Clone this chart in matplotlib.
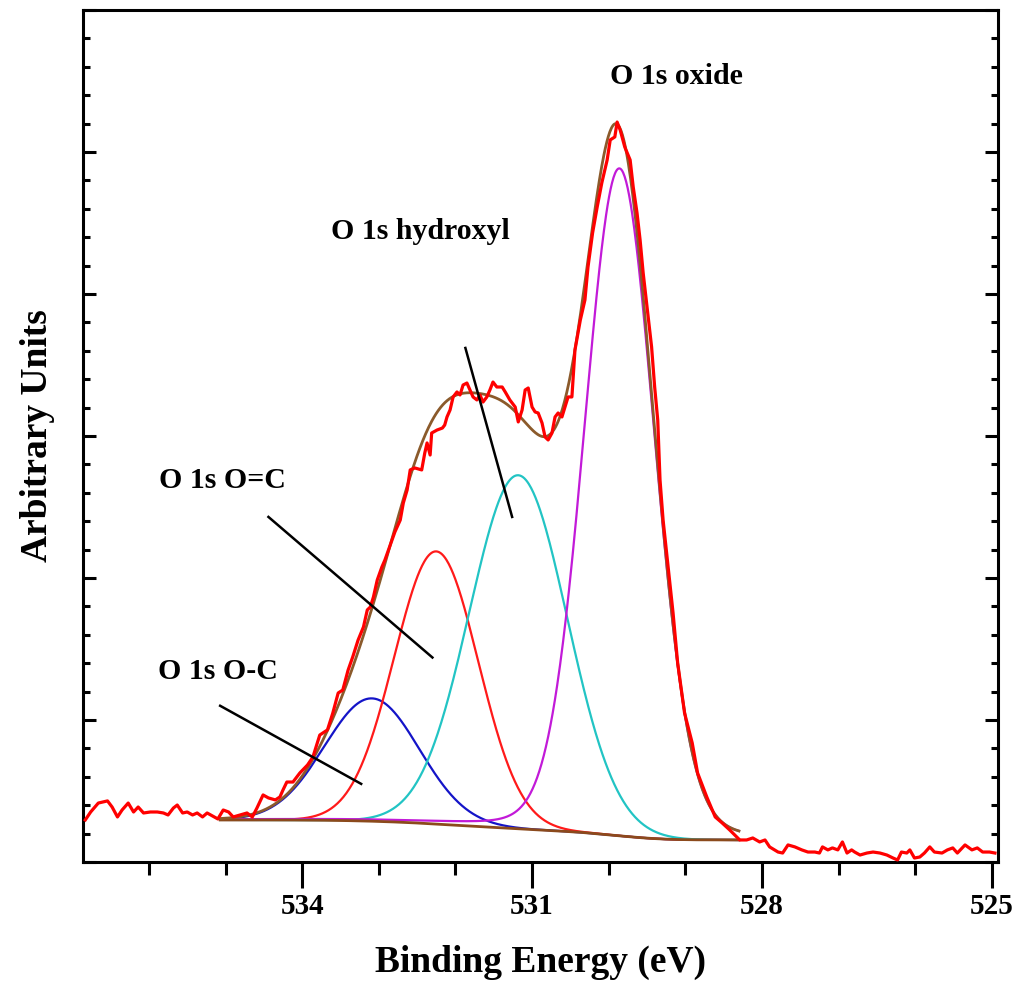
import numpy as np
import matplotlib
matplotlib.use("Agg")
import matplotlib.pyplot as plt
from matplotlib.ticker import MultipleLocator

# ---- measured O 1s spectrum (binding energy in eV, intensity in arb. units) ----
energy = [
    536.83, 536.76, 536.66, 536.54, 536.48, 536.41, 536.35, 536.27, 536.20, 536.14,
    536.07, 535.98, 535.89, 535.81, 535.75, 535.68, 535.63, 535.56, 535.50, 535.43,
    535.37, 535.30, 535.24, 535.17, 535.10, 535.03, 534.96, 534.90, 534.81, 534.72,
    534.65, 534.59, 534.51, 534.44, 534.35, 534.29,
    534.25, 534.20, 534.12, 534.03, 533.93, 533.86, 533.77, 533.67, 533.60, 533.53,
    533.47, 533.40, 533.34, 533.27, 533.20, 533.15, 533.11, 533.07, 533.02, 532.96,
    532.92, 532.85, 532.79,
    532.72, 532.68, 532.63, 532.59, 532.53, 532.44, 532.40, 532.37, 532.33, 532.31,
    532.24, 532.17, 532.14, 532.11, 532.07, 532.03, 531.98, 531.94, 531.90, 531.85,
    531.81, 531.77, 531.72, 531.68, 531.64, 531.59, 531.55, 531.51, 531.46, 531.39,
    531.35, 531.29, 531.22, 531.18, 531.13, 531.09, 531.05, 531.00, 530.96, 530.92,
    530.87, 530.83, 530.79, 530.74, 530.70, 530.66, 530.61, 530.57, 530.53,
    530.48, 530.44, 530.37, 530.31, 530.27, 530.21, 530.15, 530.09, 530.02, 529.98,
    529.92, 529.89, 529.85, 529.79, 529.72, 529.68, 529.63, 529.59, 529.55, 529.49,
    529.44, 529.40, 529.36,
    529.33, 529.29, 529.23, 529.16, 529.10, 529.01, 528.91, 528.84, 528.72, 528.61,
    528.52, 528.42, 528.29, 528.20, 528.12, 528.03,
    527.96, 527.90, 527.79, 527.73, 527.66, 527.57, 527.48, 527.40, 527.31, 527.25,
    527.21, 527.14, 527.08, 527.01, 526.95, 526.89, 526.83, 526.79, 526.72, 526.63,
    526.55, 526.46, 526.37, 526.29, 526.23, 526.18, 526.11, 526.07, 526.01, 525.94,
    525.88, 525.81, 525.75, 525.65, 525.58, 525.51, 525.45, 525.35, 525.26, 525.19,
    525.12, 525.03, 524.96,
]
intensity = [
    0.296, 0.352, 0.415, 0.430, 0.387, 0.317, 0.366, 0.415, 0.352, 0.387,
    0.345, 0.352, 0.352, 0.345, 0.331, 0.380, 0.401, 0.345, 0.352, 0.331,
    0.345, 0.317, 0.345, 0.324, 0.303, 0.366, 0.352, 0.317, 0.331, 0.345,
    0.317, 0.380, 0.472, 0.451, 0.437, 0.458,
    0.507, 0.563, 0.563, 0.627, 0.683, 0.739, 0.894, 0.930, 1.049, 1.190,
    1.211, 1.352, 1.444, 1.563, 1.655, 1.775, 1.796, 1.866, 1.986, 2.077,
    2.127, 2.232, 2.324,
    2.408, 2.528, 2.620, 2.761, 2.775, 2.761, 2.880, 2.951, 2.866, 3.021,
    3.042, 3.056, 3.077, 3.134, 3.183, 3.275, 3.310, 3.289, 3.359, 3.373,
    3.324, 3.275, 3.254, 3.289, 3.239, 3.275, 3.324, 3.380, 3.345, 3.345,
    3.310, 3.254, 3.204, 3.099, 3.183, 3.324, 3.338, 3.204, 3.169, 3.162,
    3.092, 2.993, 2.972, 3.021, 3.134, 3.162, 3.134, 3.204, 3.275,
    3.275, 3.606, 3.817, 3.958, 4.190, 4.430, 4.613, 4.782, 4.944, 5.085,
    5.106, 5.211, 5.155, 5.035, 4.944, 4.754, 4.570, 4.380, 4.148, 3.866,
    3.627, 3.345, 3.113,
    2.690, 2.408, 2.106, 1.754, 1.401, 1.049, 0.838, 0.627, 0.458, 0.317,
    0.275, 0.225, 0.155, 0.155, 0.169, 0.141,
    0.155, 0.106, 0.070, 0.063, 0.120, 0.106, 0.085, 0.070, 0.070, 0.063,
    0.106, 0.085, 0.099, 0.085, 0.141, 0.063, 0.085, 0.070, 0.049, 0.063,
    0.070, 0.063, 0.049, 0.028, 0.014, 0.070, 0.063, 0.085, 0.028, 0.035,
    0.063, 0.106, 0.070, 0.063, 0.085, 0.099, 0.063, 0.120, 0.085, 0.099,
    0.070, 0.070, 0.063,
]

# ---- fitted components: centre (eV), height, FWHM (eV), Lorentzian fraction ----
peak_names = ["O 1s O-C", "O 1s O=C", "O 1s hydroxyl", "O 1s oxide"]
peak_centers = [533.09, 532.25, 531.18, 529.86]
peak_heights = [0.865, 1.92, 2.49, 4.70]
peak_fwhm = [1.45, 1.29, 1.50, 1.08]
peak_eta = [0.0, 0.0, 0.0, 0.10]
peak_colors = ["#1414c8", "#ff1a1a", "#22c4c4", "#c21ad8"]

# fit window and Shirley background end levels
fit_low, fit_high = 528.30, 535.07
bg_low, bg_high = 0.155, 0.296

# annotation labels: text position and pointer line (energy, intensity)
label_texts = ["O 1s oxide", "O 1s hydroxyl", "O 1s O=C", "O 1s O-C"]
label_pos = [(529.11, 5.53), (532.46, 4.44), (535.04, 2.69), (535.10, 1.34)]
pointer_lines = [
    ((531.87, 3.62), (531.26, 2.43)),
    ((534.44, 2.43), (532.30, 1.44)),
    ((535.07, 1.10), (533.23, 0.55)),
]

x_major = [534, 531, 528, 525]


def pseudo_voigt(e, c, h, w, eta):
    x = (e - c) / w
    return h * ((1 - eta) * np.exp(-4 * np.log(2) * x ** 2) + eta / (1 + 4 * x ** 2))


e_fit = np.linspace(fit_low, fit_high, 700)
components = [pseudo_voigt(e_fit, c, h, w, n)
              for c, h, w, n in zip(peak_centers, peak_heights, peak_fwhm, peak_eta)]
peak_sum = np.sum(components, axis=0)

# Shirley-type background: step proportional to the integrated peak area
cum = np.concatenate([[0.0], np.cumsum(0.5 * (peak_sum[1:] + peak_sum[:-1]) * np.diff(e_fit))])
background = bg_low + (bg_high - bg_low) * cum / cum[-1]
envelope = background + peak_sum

serif = "Liberation Serif"
fig = plt.figure(figsize=(10.22, 9.91), dpi=100)
ax = fig.add_axes([0.0812, 0.1302, 0.8953, 0.8597])

for comp, col in zip(components, peak_colors):
    ax.plot(e_fit, background + comp, color=col, lw=1.6, zorder=2)
ax.plot(e_fit, background, color="#8b4a1c", lw=2.0, zorder=3)
ax.plot(e_fit, envelope, color="#8b5a2b", lw=2.0, zorder=4)
ax.plot(energy, intensity, color="#ff0000", lw=2.3, zorder=5)

for (p0, p1) in pointer_lines:
    ax.plot([p0[0], p1[0]], [p0[1], p1[1]], color="black", lw=1.8, zorder=6)
for txt, (tx, ty) in zip(label_texts, label_pos):
    ax.text(tx, ty, txt, ha="center", va="center", fontfamily=serif,
            fontweight="bold", fontsize=21.5, zorder=7)

ax.set_xlim(536.86, 524.92)
ax.set_ylim(0, 6)
ax.set_xticks(x_major)
ax.set_xticklabels([str(v) for v in x_major], fontfamily=serif, fontweight="bold", fontsize=21)
ax.xaxis.set_minor_locator(MultipleLocator(1))
ax.yaxis.set_major_locator(MultipleLocator(1))
ax.yaxis.set_minor_locator(MultipleLocator(0.2))
ax.set_yticklabels([])

ax.tick_params(axis="x", which="major", direction="out", length=19, width=2.2, pad=3, top=False)
ax.tick_params(axis="x", which="minor", direction="out", length=9.5, width=2.2, top=False)
ax.tick_params(axis="y", which="major", direction="in", length=9.5, width=2.2, left=True, right=True, labelleft=False)
ax.tick_params(axis="y", which="minor", direction="in", length=5, width=2.2, left=True, right=True)
for sp in ax.spines.values():
    sp.set_linewidth(2.2)

ax.set_xlabel("Binding Energy (eV)", fontfamily=serif, fontweight="bold", fontsize=27, labelpad=18)
ax.set_ylabel("Arbitrary Units", fontfamily=serif, fontweight="bold", fontsize=27, labelpad=17)

fig.savefig("out.png", dpi=100)
